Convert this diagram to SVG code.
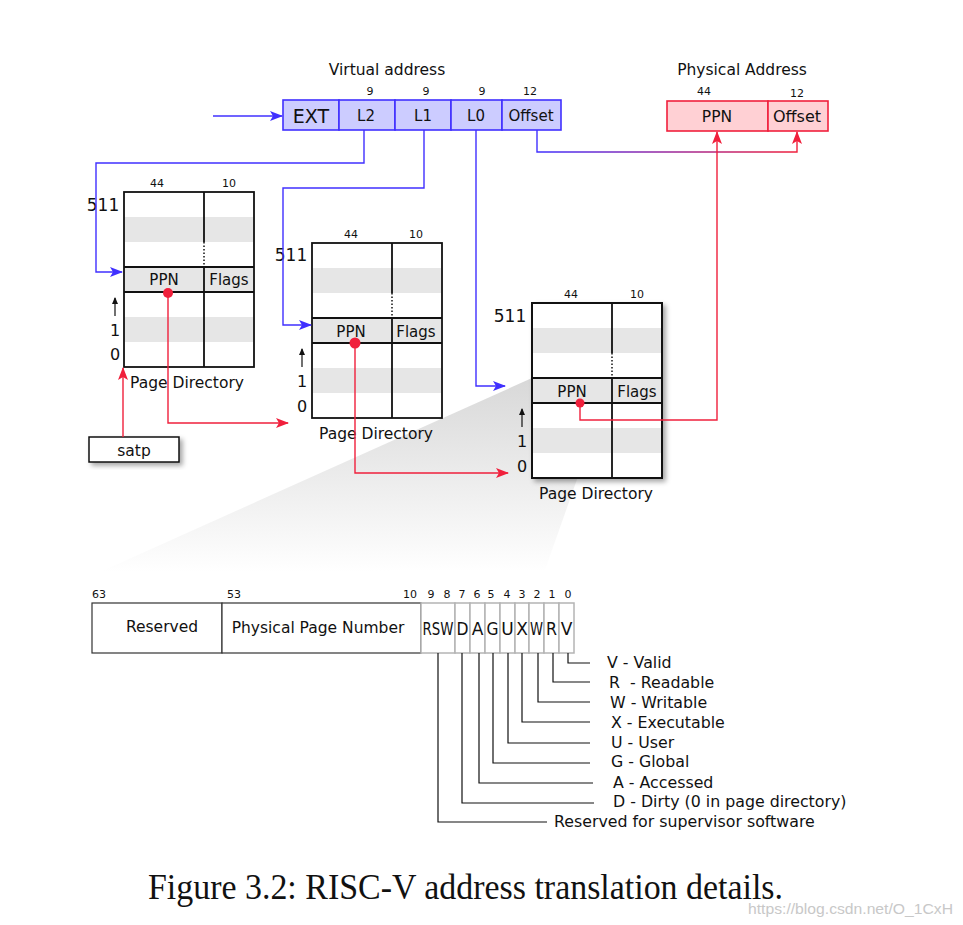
<svg xmlns="http://www.w3.org/2000/svg" width="963" height="925" viewBox="0 0 963 925">
<style>
text{font-family:"DejaVu Sans",Verdana,sans-serif;fill:#111}
.t{font-size:15.5px}
.lg{font-size:15.8px}
.s{font-size:11px}
.c{text-anchor:middle}
.big{font-size:17px}
.tb{fill:#fff;stroke:#111;stroke-width:1.8}
.gr{fill:#e6e6e6;stroke:none}
.ln{stroke:#111;stroke-width:1.8;fill:none}
.dot{stroke:#111;stroke-width:1.5;stroke-dasharray:1.5 2;fill:none}
.blue{stroke:#4030ff;stroke-width:1.4;fill:none}
.red{stroke:#f0203c;stroke-width:1.4;fill:none}
.leg{stroke:#111;stroke-width:1.2;fill:none}
.bit{fill:#fff;stroke:#b4b4b4;stroke-width:1.5}
.bl{font-size:17px}
</style>
<defs>
<marker id="ab" markerUnits="userSpaceOnUse" markerWidth="14" markerHeight="12" refX="12" refY="5" orient="auto"><path d="M0,0 L13,5 L0,10 L3,5 z" fill="#4030ff"/></marker>
<marker id="ar" markerUnits="userSpaceOnUse" markerWidth="14" markerHeight="12" refX="12" refY="5" orient="auto"><path d="M0,0 L13,5 L0,10 L3,5 z" fill="#f0203c"/></marker>
<marker id="ak" markerUnits="userSpaceOnUse" markerWidth="8" markerHeight="8" refX="6" refY="3" orient="auto"><path d="M0,0 L7,3 L0,6 z" fill="#111"/></marker>
<linearGradient id="pg" gradientUnits="userSpaceOnUse" x1="537" y1="0" x2="797" y2="0"><stop offset="0" stop-color="#4030ff"/><stop offset="1" stop-color="#f0203c"/></linearGradient>
<linearGradient id="wg" gradientUnits="userSpaceOnUse" x1="0" y1="378" x2="0" y2="572"><stop offset="0" stop-color="#d8d8d8"/><stop offset="1" stop-color="#ffffff"/></linearGradient>
<filter id="sh" x="-20%" y="-20%" width="150%" height="150%"><feDropShadow dx="3" dy="3" stdDeviation="2.5" flood-color="#000" flood-opacity="0.35"/></filter>
</defs>
<rect width="963" height="925" fill="#fff"/>

<polygon id="wedge" points="532,378 605,400 545,570 100,572" fill="url(#wg)"/>

<g id="virtual-address">
<text class="t c" x="387" y="75">Virtual address</text>
<g fill="#ccccff" stroke="#4030ff" stroke-width="1.6">
<rect x="283" y="100" width="56" height="30"/>
<rect x="339" y="100" width="56" height="30"/>
<rect x="395" y="100" width="56" height="30"/>
<rect x="451" y="100" width="51" height="30"/>
<rect x="502" y="100" width="59" height="30"/>
</g>
<text class="c" x="311" y="122.5" style="font-size:19px">EXT</text>
<text class="t c" x="366" y="121" style="font-size:15px">L2</text>
<text class="t c" x="423" y="121" style="font-size:15px">L1</text>
<text class="t c" x="476" y="121" style="font-size:15px">L0</text>
<text class="t c" x="531" y="121" style="font-size:15px">Offset</text>
<text class="s c" x="370" y="95">9</text>
<text class="s c" x="426" y="95">9</text>
<text class="s c" x="482" y="95">9</text>
<text class="s c" x="530" y="95">12</text>
</g>

<g id="physical-address">
<text class="t c" x="742" y="75">Physical Address</text>
<g fill="#ffd0d4" stroke="#f0203c" stroke-width="1.6">
<rect x="667" y="101" width="101" height="30"/>
<rect x="768" y="101" width="60" height="30"/>
</g>
<text class="t c" x="717" y="122">PPN</text>
<text class="c" x="797" y="122" style="font-size:16px">Offset</text>
<text class="s c" x="704" y="95">44</text>
<text class="s c" x="797" y="97">12</text>
</g>

<g id="page-directory-1">
<rect class="tb" x="124" y="192" width="130" height="175"/>
<rect class="gr" x="125" y="217" width="128" height="25"/>
<rect class="gr" x="125" y="267" width="128" height="25"/>
<rect class="gr" x="125" y="317" width="128" height="25"/>
<path class="ln" d="M124,267 H254 M124,292 H254 M204,192 V242 M204,267 V367"/>
<path class="dot" d="M204,242 V267"/>
<text class="t c" x="164" y="285" style="font-size:15px">PPN</text>
<text class="t c" x="229" y="285" style="font-size:15px">Flags</text>
<text class="s c" x="157" y="187">44</text>
<text class="s c" x="229" y="187">10</text>
<text class="big c" x="103" y="211">511</text>
<text class="c" x="115" y="336" style="font-size:16px">1</text>
<text class="c" x="115" y="360" style="font-size:16px">0</text>
<path class="leg" d="M115,316 V298" marker-end="url(#ak)"/>
<text class="t c" x="187" y="388">Page Directory</text>
</g>

<g id="page-directory-2">
<rect class="tb" x="312" y="243" width="130" height="175"/>
<rect class="gr" x="313" y="268" width="128" height="25"/>
<rect class="gr" x="313" y="318" width="128" height="25"/>
<rect class="gr" x="313" y="368" width="128" height="25"/>
<path class="ln" d="M312,318 H442 M312,343 H442 M392,243 V293 M392,318 V418"/>
<path class="dot" d="M392,293 V318"/>
<text class="t c" x="351" y="337" style="font-size:15px">PPN</text>
<text class="t c" x="416" y="337" style="font-size:15px">Flags</text>
<text class="s c" x="351" y="238">44</text>
<text class="s c" x="416" y="238">10</text>
<text class="big c" x="291" y="261">511</text>
<text class="c" x="302" y="387" style="font-size:16px">1</text>
<text class="c" x="302" y="412" style="font-size:16px">0</text>
<path class="leg" d="M302,367 V349" marker-end="url(#ak)"/>
<text class="t c" x="376" y="439">Page Directory</text>
</g>

<g id="page-directory-3">
<rect class="tb" x="532" y="303" width="130" height="175" filter="url(#sh)"/>
<rect class="gr" x="533" y="328" width="128" height="25"/>
<rect class="gr" x="533" y="378" width="128" height="25"/>
<rect class="gr" x="533" y="428" width="128" height="25"/>
<path class="ln" d="M532,378 H662 M532,403 H662 M612,303 V353 M612,378 V478"/>
<path class="ln" d="M532,303 H662 V478 H532 Z"/>
<path class="dot" d="M612,353 V378"/>
<text class="t c" x="572" y="397" style="font-size:15px">PPN</text>
<text class="t c" x="637" y="397" style="font-size:15px">Flags</text>
<text class="s c" x="571" y="298">44</text>
<text class="s c" x="637" y="298">10</text>
<text class="big c" x="510" y="322">511</text>
<text class="c" x="522" y="447" style="font-size:16px">1</text>
<text class="c" x="522" y="472" style="font-size:16px">0</text>
<path class="leg" d="M522,427 V409" marker-end="url(#ak)"/>
<text class="t c" x="596" y="499">Page Directory</text>
</g>

<g id="satp">
<rect x="89" y="437" width="90" height="25" fill="#fff" stroke="#111" stroke-width="1.5" filter="url(#sh)"/>
<text class="t c" x="134" y="456">satp</text>
</g>

<g id="connectors">
<path class="blue" d="M213,116 H282" marker-end="url(#ab)"/>
<path class="blue" d="M364,130 V163 H96 V272 H122" marker-end="url(#ab)"/>
<path class="blue" d="M424,130 V188 H283 V325 H311" marker-end="url(#ab)"/>
<path class="blue" d="M476,130 V386 H505" marker-end="url(#ab)"/>
<path d="M537,130 V152 H797 V132" fill="none" stroke="url(#pg)" stroke-width="1.4" marker-end="url(#ar)"/>
<path class="red" d="M123,437 V368" marker-end="url(#ar)"/>
<path class="red" d="M168,293 V423 H288" marker-end="url(#ar)"/>
<path class="red" d="M355,343 V473 H508" marker-end="url(#ar)"/>
<path class="red" d="M580,403 V420 H717 V132" marker-end="url(#ar)"/>
<circle cx="168" cy="293" r="5" fill="#f0203c"/>
<circle cx="355" cy="343" r="5.5" fill="#f0203c"/>
<circle cx="580" cy="403" r="4.5" fill="#f0203c"/>
</g>

<g id="pte">
<rect x="92" y="603" width="130" height="50" fill="#fff" stroke="#333" stroke-width="1.2"/>
<rect x="222" y="603" width="199" height="50" fill="#fff" stroke="#333" stroke-width="1.2"/>
<rect class="bit" x="421" y="603" width="34" height="50"/>
<rect class="bit" x="455" y="603" width="15" height="50"/>
<rect class="bit" x="470" y="603" width="15" height="50"/>
<rect class="bit" x="485" y="603" width="15" height="50"/>
<rect class="bit" x="500" y="603" width="15" height="50"/>
<rect class="bit" x="515" y="603" width="14" height="50"/>
<rect class="bit" x="529" y="603" width="15" height="50"/>
<rect class="bit" x="544" y="603" width="15" height="50"/>
<rect class="bit" x="559" y="603" width="15" height="50"/>
<text class="t c" x="162" y="632">Reserved</text>
<text class="t c" x="318" y="633">Physical Page Number</text>
<text class="bl c" x="438" y="635" textLength="31" lengthAdjust="spacingAndGlyphs">RSW</text>
<text class="bl c" x="462.5" y="635" textLength="12" lengthAdjust="spacingAndGlyphs">D</text>
<text class="bl c" x="477.5" y="635">A</text>
<text class="bl c" x="492.5" y="635" textLength="12" lengthAdjust="spacingAndGlyphs">G</text>
<text class="bl c" x="507.5" y="635">U</text>
<text class="bl c" x="522" y="635">X</text>
<text class="bl c" x="536.5" y="635" textLength="13" lengthAdjust="spacingAndGlyphs">W</text>
<text class="bl c" x="551.5" y="635" textLength="11" lengthAdjust="spacingAndGlyphs">R</text>
<text class="bl c" x="566.5" y="635">V</text>
<text class="s c" x="99" y="598">63</text>
<text class="s c" x="234" y="598">53</text>
<text class="s c" x="410" y="598">10</text>
<text class="s c" x="431" y="598">9</text>
<text class="s c" x="447" y="598">8</text>
<text class="s c" x="462" y="598">7</text>
<text class="s c" x="477" y="598">6</text>
<text class="s c" x="491" y="598">5</text>
<text class="s c" x="507" y="598">4</text>
<text class="s c" x="522" y="598">3</text>
<text class="s c" x="537" y="598">2</text>
<text class="s c" x="552" y="598">1</text>
<text class="s c" x="568" y="598">0</text>
</g>

<g id="legend">
<path class="leg" d="M568,653 V663 H590 M553,653 V682 H590 M538,653 V702 H590 M522,653 V722 H590 M508,653 V743 H590 M493,653 V763 H590 M479,653 V783 H593 M462,653 V803 H594 M438,653 V822 H547"/>
<text class="lg" x="607" y="668">V - Valid</text>
<text class="lg" x="609" y="688" xml:space="preserve">R  - Readable</text>
<text class="lg" x="610" y="708">W - Writable</text>
<text class="lg" x="611" y="728">X - Executable</text>
<text class="lg" x="611" y="748">U - User</text>
<text class="lg" x="611" y="767">G - Global</text>
<text class="lg" x="613" y="788">A - Accessed</text>
<text class="lg" x="613" y="807">D - Dirty (0 in page directory)</text>
<text class="lg" x="554" y="827">Reserved for supervisor software</text>
</g>

<text id="caption" x="148" y="899" style="font-family:'Liberation Serif','Times New Roman',serif;font-size:35px" textLength="635" lengthAdjust="spacingAndGlyphs">Figure 3.2: RISC-V address translation details.</text>
<text id="watermark" x="748" y="914" style="font-family:'Liberation Sans',Arial,sans-serif;font-size:14px;fill:#c8c8c8" textLength="205" lengthAdjust="spacingAndGlyphs">https://blog.csdn.net/O_1CxH</text>
</svg>
